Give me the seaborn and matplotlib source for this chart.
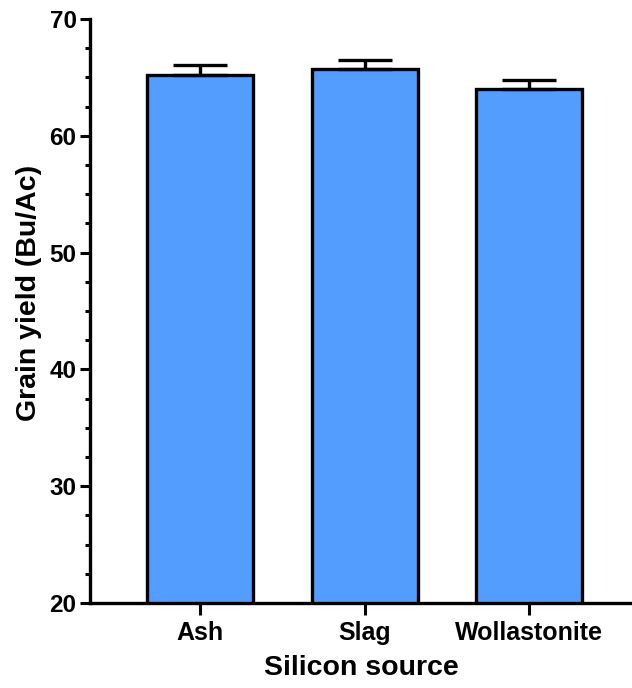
import numpy as np
import pandas as pd
import matplotlib
matplotlib.use("Agg")
import matplotlib.pyplot as plt
import seaborn as sns
from matplotlib.ticker import MultipleLocator

# data
sources = ["Ash", "Slag", "Wollastonite"]
grain_yield = [65.2, 65.7, 64.0]
yield_err = [0.85, 0.8, 0.8]

df = pd.DataFrame({"source": sources, "yield": grain_yield})

sns.set_style("ticks")
plt.rcParams["font.family"] = ["Liberation Sans", "DejaVu Sans"]
plt.rcParams["font.weight"] = "bold"
plt.rcParams["text.color"] = "black"
plt.rcParams["axes.labelcolor"] = "black"
plt.rcParams["xtick.color"] = "black"
plt.rcParams["ytick.color"] = "black"
plt.rcParams["axes.edgecolor"] = "black"

fig = plt.figure(figsize=(6.32, 6.88), dpi=100)
ax = fig.add_axes([0.1424, 0.1235, 0.8576, 0.8489])

sns.barplot(data=df, x="source", y="yield", color="#529DFF", saturation=1,
            width=0.644, edgecolor="black", linewidth=2.4, errorbar=None, ax=ax)

# one-sided (upper) error bars
ax.errorbar(np.arange(len(sources)), grain_yield,
            yerr=[np.zeros(len(sources)), yield_err],
            fmt="none", ecolor="black", elinewidth=2.4, capsize=19.5,
            capthick=2.4, zorder=1)

ax.set_ylim(20, 70)
ax.set_xlim(-0.669, 2.626)
ax.yaxis.set_major_locator(MultipleLocator(10))
ax.yaxis.set_minor_locator(MultipleLocator(2.5))

for side in ["top", "right"]:
    ax.spines[side].set_visible(False)
for side in ["left", "bottom"]:
    ax.spines[side].set_linewidth(2.4)
    ax.spines[side].set_color("black")

ax.tick_params(axis="y", which="major", length=7.2, width=2.2, labelsize=17.5, pad=2.5)
ax.tick_params(axis="y", which="minor", length=3.6, width=2.2)
ax.tick_params(axis="x", which="major", length=8.6, width=2.2, labelsize=18, pad=4.5)
for lbl in ax.get_xticklabels() + ax.get_yticklabels():
    lbl.set_fontweight("bold")

ax.set_xlabel("Silicon source", fontsize=20.5, fontweight="bold", labelpad=7)
ax.set_ylabel("Grain yield (Bu/Ac)", fontsize=20.5, fontweight="bold")
ax.yaxis.set_label_coords(-0.088, 0.531)

fig.savefig("out.png", dpi=100)
